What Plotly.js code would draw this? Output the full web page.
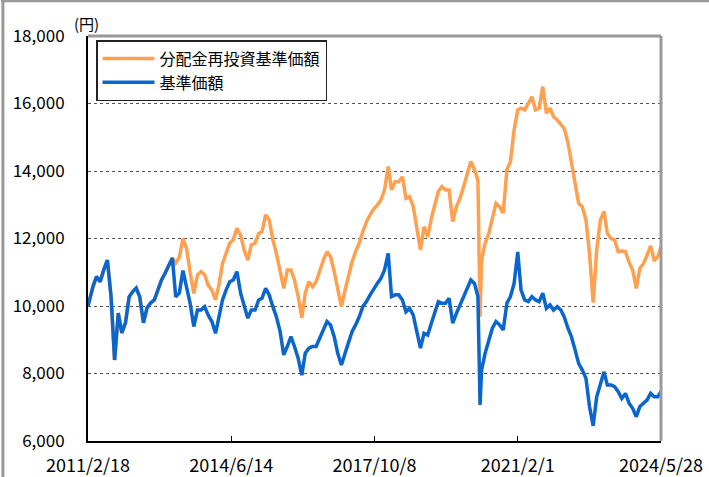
<!DOCTYPE html>
<html>
<head>
<meta charset="utf-8">
<script src="https://cdn.plot.ly/plotly-3.0.1.min.js"></script>
<style>html,body{margin:0;padding:0;background:#fff;}#chart{width:709px;height:477px;}</style>
</head>
<body>
<div id="chart"></div>
<script>
const dates = [
'2011-02-18','2011-03-01','2011-04-01','2011-05-01','2011-06-01','2011-07-01','2011-08-01','2011-09-01','2011-10-01','2011-11-01','2011-12-01',
'2012-01-01','2012-02-01','2012-03-01','2012-04-01','2012-05-01','2012-06-01','2012-07-01','2012-08-01','2012-09-01','2012-10-01','2012-11-01','2012-12-01',
'2013-01-01','2013-02-01','2013-03-01','2013-04-01','2013-05-01','2013-06-01','2013-07-01','2013-08-01','2013-09-01','2013-10-01','2013-11-01','2013-12-01',
'2014-01-01','2014-02-01','2014-03-01','2014-04-01','2014-05-01','2014-06-01','2014-07-01','2014-08-01','2014-09-01','2014-10-01','2014-11-01','2014-12-01',
'2015-01-01','2015-02-01','2015-03-01','2015-04-01','2015-05-01','2015-06-01','2015-07-01','2015-08-01','2015-09-01','2015-10-01','2015-11-01','2015-12-01',
'2016-01-01','2016-02-01','2016-03-01','2016-04-01','2016-05-01','2016-06-01','2016-07-01','2016-08-01','2016-09-01','2016-10-01','2016-11-01','2016-12-01',
'2017-01-01','2017-02-01','2017-03-01','2017-04-01','2017-05-01','2017-06-01','2017-07-01','2017-08-01','2017-09-01','2017-10-01','2017-11-01','2017-12-01',
'2018-01-01','2018-02-01','2018-03-01','2018-04-01','2018-05-01','2018-06-01','2018-07-01','2018-08-01','2018-09-01','2018-10-01','2018-11-01','2018-12-01',
'2019-01-01','2019-02-01','2019-03-01','2019-04-01','2019-05-01','2019-06-01','2019-07-01','2019-08-01','2019-09-01','2019-10-01','2019-11-01','2019-12-01',
'2020-01-01','2020-02-01','2020-03-01','2020-03-19','2020-04-01','2020-05-01','2020-06-01','2020-07-01','2020-08-01','2020-09-01','2020-10-01','2020-11-01','2020-12-01',
'2021-01-01','2021-02-01','2021-03-01','2021-04-01','2021-05-01','2021-06-01','2021-07-01','2021-08-01','2021-09-01','2021-10-01','2021-11-01','2021-12-01',
'2022-01-01','2022-02-01','2022-03-01','2022-04-01','2022-05-01','2022-06-01','2022-07-01','2022-08-01','2022-09-01','2022-10-01','2022-11-01','2022-12-01',
'2023-01-01','2023-02-01','2023-03-01','2023-04-01','2023-05-01','2023-06-01','2023-07-01','2023-08-01','2023-09-01','2023-10-01','2023-11-01','2023-12-01',
'2024-01-01','2024-02-01','2024-03-01','2024-04-01','2024-05-01','2024-05-28'
];

// 分配金再投資基準価額
const reinvested = [
10000,10180,10575,10870,10720,11070,11360,10280,8400,9790,9200,
9500,10270,10420,10530,10270,9500,9940,10090,10180,10470,10770,10970,
11210,11420,11270,11450,12000,11700,11000,10375,10920,11020,10920,10620,
10470,10180,10620,11260,11560,11860,11960,12300,12100,11660,11360,11810,
11860,12150,12200,12700,12550,11960,11560,11000,10520,11070,11070,10770,
10280,9650,10380,10720,10570,10720,11070,11360,11610,11460,11020,10520,
9980,10470,10870,11310,11610,11860,12200,12500,12700,12870,12990,13140,
13440,14130,13440,13680,13680,13830,13190,13240,12940,12300,11660,12350,
12050,12600,12990,13390,13540,13440,13440,12500,12940,13190,13540,13930,
14280,14030,13730,9680,11360,11860,12150,12600,13040,12940,12750,14030,14280,
15220,15810,15860,15810,16000,16200,15810,15860,16500,15710,15860,15610,
15510,15360,15260,14850,14230,13630,13040,12940,12550,11560,10100,11660,
12550,12800,12150,12000,11960,11610,11630,11610,11290,11070,10520,11120,
11260,11510,11780,11340,11460,11760
];

// 基準価額
const nav = [
10000,10180,10575,10870,10720,11070,11360,10280,8400,9790,9200,
9500,10270,10420,10530,10270,9500,9940,10090,10180,10470,10770,10970,
11210,11420,10270,10390,11050,10570,10080,9390,9880,9880,9980,9730,
9540,9190,9680,10180,10470,10720,10770,11020,10380,9980,9640,9880,
9880,10180,10230,10520,10330,9980,9680,9250,8550,8800,9090,8800,
8450,7950,8600,8750,8800,8800,9040,9240,9540,9440,9090,8600,
8250,8600,8890,9240,9440,9680,9980,10130,10330,10520,10670,10820,
11070,11560,10280,10330,10330,10180,9830,9930,9730,9240,8750,9190,
9140,9490,9830,10130,10080,10080,10230,9490,9780,10030,10280,10520,
10770,10670,10280,7070,8100,8600,8990,9340,9540,9440,9290,10080,10280,
10670,11600,10470,10180,10130,10280,10180,10130,10380,9930,10030,9880,
9980,9880,9680,9350,9090,8700,8300,8100,7860,7020,6450,7310,
7710,8050,7660,7660,7610,7460,7260,7410,7120,6970,6720,7020,
7120,7220,7410,7310,7310,7460
];

const seriesNames = ['分配金再投資基準価額', '基準価額'];
const yTicks = [6000, 8000, 10000, 12000, 14000, 16000, 18000];
const xTickDates = ['2011-02-18', '2014-06-14', '2017-10-08', '2021-02-01', '2024-05-28'];
const xTickLabels = ['2011/2/18', '2014/6/14', '2017/10/8', '2021/2/1', '2024/5/28'];

const FONT = '"Noto Sans CJK JP", "Liberation Sans", sans-serif';

const traces = [
  {
    x: dates, y: reinvested, name: seriesNames[0], type: 'scatter', mode: 'lines',
    line: {color: '#FFA050', width: 3.5}
  },
  {
    x: dates, y: nav, name: seriesNames[1], type: 'scatter', mode: 'lines',
    line: {color: '#0A66CC', width: 3.5}
  }
];

const layout = {
  width: 709, height: 477,
  margin: {l: 88, r: 48, t: 36, b: 36, pad: 0},
  paper_bgcolor: '#ffffff', plot_bgcolor: '#ffffff',
  font: {family: FONT, color: '#000', size: 16},
  showlegend: true,
  legend: {
    x: 0.014, y: 0.99, xanchor: 'left', yanchor: 'top',
    bgcolor: '#ffffff', bordercolor: '#222', borderwidth: 1.5,
    font: {family: FONT, size: 16, color: '#000'},
    itemwidth: 52, tracegroupgap: 0, traceorder: 'normal'
  },
  xaxis: {
    type: 'date', range: [xTickDates[0], xTickDates[4]],
    tickmode: 'array', tickvals: xTickDates, ticktext: xTickLabels,
    ticks: 'inside', ticklen: 5, tickwidth: 1, tickcolor: '#000',
    showline: true, linecolor: '#000', linewidth: 2,
    showgrid: false, zeroline: false, ticklabelstandoff: 7,
    tickfont: {family: FONT, size: 18, color: '#000'}
  },
  yaxis: {
    range: [6000, 18000], tickmode: 'array', tickvals: yTicks, tickformat: ',d',
    ticks: '', showline: true, linecolor: '#000', linewidth: 2,
    showgrid: true, gridcolor: '#555', griddash: 'dot', gridwidth: 1,
    zeroline: false, ticklabelstandoff: 18,
    tickfont: {family: FONT, size: 17, color: '#000'}
  },
  annotations: [
    {text: '(円)', xref: 'paper', yref: 'paper', x: -0.003, y: 1.032,
     xanchor: 'center', yanchor: 'middle', showarrow: false,
     font: {family: FONT, size: 15, color: '#000'}}
  ],
  shapes: [
    {type: 'line', xref: 'paper', yref: 'paper', x0: 0, x1: 1, y0: 1, y1: 1, line: {color: '#999', width: 3}},
    {type: 'line', xref: 'paper', yref: 'paper', x0: 1, x1: 1, y0: 0, y1: 1, line: {color: '#999', width: 3}},
    {type: 'line', xref: 'paper', yref: 'paper', x0: -0.152, x1: 1.09, y0: 1.087, y1: 1.087, line: {color: '#999', width: 3}},
    {type: 'line', xref: 'paper', yref: 'paper', x0: -0.1485, x1: -0.1485, y0: -0.1, y1: 1.09, line: {color: '#999', width: 3}}
  ],
  hovermode: false
};

Plotly.newPlot('chart', traces, layout, {displayModeBar: false, staticPlot: true});
</script>
</body>
</html>
